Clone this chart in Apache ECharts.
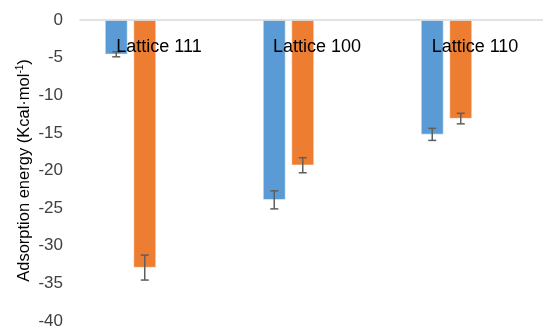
<!DOCTYPE html>
<html>
<head>
<meta charset="utf-8">
<script src="https://cdn.jsdelivr.net/npm/echarts@6/dist/echarts.min.js"></script>
<style>
  html, body { margin: 0; padding: 0; background: #fff; }
  #chart { width: 543px; height: 329px; }
</style>
</head>
<body>
<div id="chart"></div>
<script>
// Surface lattices and their adsorption energies (kcal/mol), mean and error
const categories = ['Lattice 111', 'Lattice 100', 'Lattice 110'];
const blueValues = [-4.56, -23.9, -15.2];
const blueErrors = [0.33, 1.2, 0.8];
const orangeValues = [-32.9, -19.3, -13.1];
const orangeErrors = [1.66, 1.0, 0.7];
const yTicks = { min: -40, max: 0, step: 5 };

const FONT = 'Liberation Sans';
const BAR_W = 22.5;
const BAR_GAP_PX = 6;
const SLOTS = 4; // two drawn series plus two empty slots in each cluster

const blank = categories.map(() => '-');

function errorData(values, errors, slot) {
  return values.map((v, i) => [i, v, errors[i], slot]);
}

const chart = echarts.init(document.getElementById('chart'), null, { renderer: 'canvas' });

chart.setOption({
  animation: false,
  backgroundColor: '#ffffff',
  grid: { left: 80, top: 20, width: 474, height: 301, containLabel: false, outerBoundsMode: 'none' },
  xAxis: {
    type: 'category',
    data: categories,
    position: 'top',
    z: 10,
    axisLine: { show: true, onZero: true, lineStyle: { color: '#d9d9d9', width: 1.5 } },
    axisTick: { show: false },
    axisLabel: { inside: true, margin: 18, fontFamily: FONT, fontSize: 18, color: '#000000' },
    splitLine: { show: false }
  },
  yAxis: {
    type: 'value',
    min: yTicks.min,
    max: yTicks.max,
    interval: yTicks.step,
    axisLine: { show: false },
    axisTick: { show: false },
    splitLine: { show: false },
    axisLabel: { margin: 17, fontFamily: FONT, fontSize: 17, color: '#404040' },
    name: '{t|Adsorption energy (Kcal·mol}{s|-1}{t|)}',
    nameLocation: 'middle',
    nameGap: 47,
    nameMoveOverlap: false,
    nameTextStyle: {
      rich: {
        t: { fontFamily: FONT, fontSize: 16.5, color: '#000000' },
        s: { fontFamily: FONT, fontSize: 10, color: '#000000', verticalAlign: 'top', padding: [0, 0, 8, 0] }
      }
    }
  },
  series: [
    {
      type: 'bar', data: blueValues, barWidth: BAR_W, barGap: (BAR_GAP_PX / BAR_W * 100) + '%',
      itemStyle: { color: '#5b9bd5', borderColor: '#ffffff', borderWidth: 0.5 }
    },
    {
      type: 'bar', data: orangeValues, barWidth: BAR_W,
      itemStyle: { color: '#ed7d31', borderColor: '#ffffff', borderWidth: 0.5 }
    },
    { type: 'bar', data: blank, barWidth: BAR_W, silent: true },
    { type: 'bar', data: blank, barWidth: BAR_W, silent: true },
    {
      type: 'custom',
      z: 5,
      data: errorData(blueValues, blueErrors, 0).concat(errorData(orangeValues, orangeErrors, 1)),
      renderItem: function (params, api) {
        const idx = api.value(0);
        const v = api.value(1);
        const e = api.value(2);
        const slot = api.value(3);
        const groupW = SLOTS * BAR_W + (SLOTS - 1) * BAR_GAP_PX;
        const cx = api.coord([idx, 0])[0] - groupW / 2 + BAR_W / 2 + slot * (BAR_W + BAR_GAP_PX);
        const yHi = api.coord([idx, v + e])[1];
        const yLo = api.coord([idx, v - e])[1];
        const cap = 4;
        const style = { stroke: '#5f5f5f', lineWidth: 1.5 };
        return {
          type: 'group',
          children: [
            { type: 'line', shape: { x1: cx, y1: yHi, x2: cx, y2: yLo }, style: style },
            { type: 'line', shape: { x1: cx - cap, y1: yHi, x2: cx + cap, y2: yHi }, style: style },
            { type: 'line', shape: { x1: cx - cap, y1: yLo, x2: cx + cap, y2: yLo }, style: style }
          ]
        };
      }
    }
  ]
});
</script>
</body>
</html>
